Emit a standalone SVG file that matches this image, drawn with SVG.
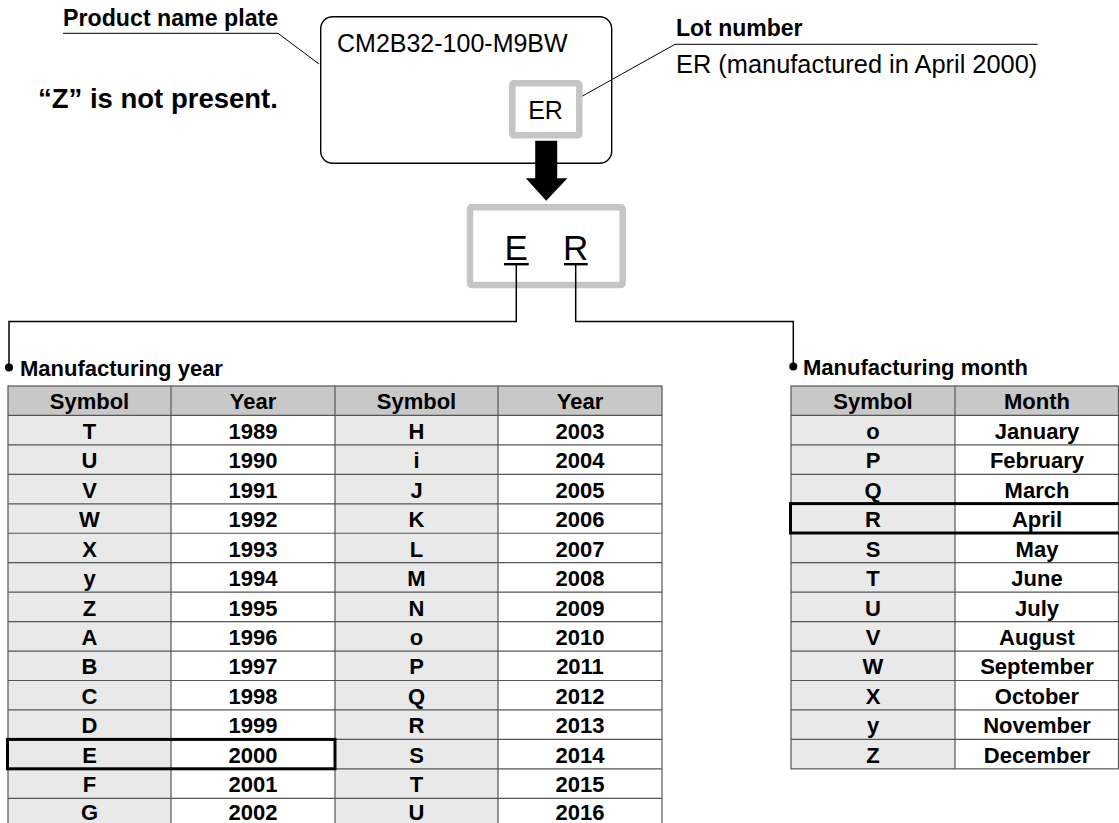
<svg xmlns="http://www.w3.org/2000/svg" width="1119" height="823" viewBox="0 0 1119 823">
  <style>
    .bold { font-family: "Liberation Sans", Arial, sans-serif; font-weight: bold; fill: #000; }
    .reg { font-family: "Liberation Sans", Arial, sans-serif; fill: #000; }
    .lbl { font-size: 22px; }
    .cell { font-size: 22px; text-anchor: middle; }
    .wire { fill: none; stroke: #000; stroke-width: 1.5; }
    .thin { fill: none; stroke: #000; stroke-width: 1; }
    .grid { stroke: #555; stroke-width: 1.2; fill: none; }
    .hdr { fill: #c8c8c8; }
    .sym { fill: #e8e9e8; }
    .val { fill: #fff; }
    .gray { fill: #fff; stroke: #c4c6c5; stroke-width: 6.5; }
    .hilite { fill: none; stroke: #000; stroke-width: 3; }
  </style>

  <rect x="0" y="0" width="1119" height="823" fill="#fff"/>

  <!-- Callout labels -->
  <g id="label-nameplate">
    <text class="bold" font-size="23.2" x="63" y="26">Product name plate</text>
  </g>
  <g id="label-note">
    <text class="bold" font-size="27.5" x="38" y="108">“Z” is not present.</text>
  </g>
  <g id="label-lot">
    <text class="bold" font-size="23" x="676" y="36">Lot number</text>
    <text class="reg" font-size="25.4" x="676" y="73">ER (manufactured in April 2000)</text>
  </g>

  <!-- Name plate -->
  <g id="nameplate">
    <rect x="320.7" y="16.7" width="291" height="146.6" rx="12" fill="#fff" stroke="#000" stroke-width="1.4"/>
    <text class="reg" font-size="25" x="337" y="52">CM2B32-100-M9BW</text>
  </g>
  <g id="lot-box">
    <rect class="gray" x="512.3" y="83.3" width="67" height="52" rx="1.5"/>
    <text class="reg" font-size="25" x="545.5" y="118.5" text-anchor="middle">ER</text>
  </g>

  <!-- Enlarged lot code -->
  <g id="lot-code">
    <rect class="gray" x="470" y="207.3" width="152.7" height="77.7" rx="1.5"/>
    <text class="reg" font-size="35" x="516.3" y="260" text-anchor="middle">E</text>
    <text class="reg" font-size="35" x="575.7" y="260" text-anchor="middle">R</text>
    <rect x="504" y="263" width="24.7" height="2.4" fill="#000"/>
    <rect x="564" y="263" width="23.7" height="2.4" fill="#000"/>
  </g>

  <!-- Connectors -->
  <g id="connectors">
    <polyline class="thin" points="63,33.3 278,33.3 319,64"/>
    <polyline class="thin" points="582.5,96 675,44.3 1037.7,44.3"/>
    <polygon points="535.2,140.7 557.2,140.7 557.2,178.3 567.4,178.3 546.2,200.7 525.8,178.3 535.2,178.3" fill="#000"/>
    <polyline class="wire" points="516.3,265 516.3,321.5 9,321.5 9,367.5"/>
    <circle cx="9" cy="367.5" r="4" fill="#000"/>
    <polyline class="wire" points="575.7,265 575.7,321.5 793.3,321.5 793.3,366.5"/>
    <circle cx="793.3" cy="366.5" r="4" fill="#000"/>
  </g>

  <!-- Manufacturing year table -->
  <g id="year-table">
    <text class="bold lbl" x="20" y="376">Manufacturing year</text>
    <rect class="hdr" x="8" y="386" width="654" height="29.45"/>
    <rect class="sym" x="8" y="415.45" width="163" height="412.3"/>
    <rect class="val" x="171" y="415.45" width="164" height="412.3"/>
    <rect class="sym" x="335" y="415.45" width="163" height="412.3"/>
    <rect class="val" x="498" y="415.45" width="164" height="412.3"/>
    <g class="grid">
      <rect x="8" y="386" width="654" height="441.75"/>
      <line x1="171" y1="386" x2="171" y2="827.75"/>
      <line x1="335" y1="386" x2="335" y2="827.75"/>
      <line x1="498" y1="386" x2="498" y2="827.75"/>
      <line x1="8" y1="415.45" x2="662" y2="415.45"/>
      <line x1="8" y1="444.9" x2="662" y2="444.9"/>
      <line x1="8" y1="474.35" x2="662" y2="474.35"/>
      <line x1="8" y1="503.8" x2="662" y2="503.8"/>
      <line x1="8" y1="533.25" x2="662" y2="533.25"/>
      <line x1="8" y1="562.7" x2="662" y2="562.7"/>
      <line x1="8" y1="592.15" x2="662" y2="592.15"/>
      <line x1="8" y1="621.6" x2="662" y2="621.6"/>
      <line x1="8" y1="651.05" x2="662" y2="651.05"/>
      <line x1="8" y1="680.5" x2="662" y2="680.5"/>
      <line x1="8" y1="709.95" x2="662" y2="709.95"/>
      <line x1="8" y1="739.4" x2="662" y2="739.4"/>
      <line x1="8" y1="768.85" x2="662" y2="768.85"/>
      <line x1="8" y1="798.3" x2="662" y2="798.3"/>
    </g>
    <g class="bold cell">
      <text x="89.5" y="408.5">Symbol</text><text x="253" y="408.5">Year</text><text x="416.5" y="408.5">Symbol</text><text x="580" y="408.5">Year</text>
      <text x="89.5" y="438.8">T</text><text x="253" y="438.8">1989</text><text x="416.5" y="438.8">H</text><text x="580" y="438.8">2003</text>
      <text x="89.5" y="468.2">U</text><text x="253" y="468.2">1990</text><text x="416.5" y="468.2">i</text><text x="580" y="468.2">2004</text>
      <text x="89.5" y="497.7">V</text><text x="253" y="497.7">1991</text><text x="416.5" y="497.7">J</text><text x="580" y="497.7">2005</text>
      <text x="89.5" y="527.1">W</text><text x="253" y="527.1">1992</text><text x="416.5" y="527.1">K</text><text x="580" y="527.1">2006</text>
      <text x="89.5" y="556.6">X</text><text x="253" y="556.6">1993</text><text x="416.5" y="556.6">L</text><text x="580" y="556.6">2007</text>
      <text x="89.5" y="586">y</text><text x="253" y="586">1994</text><text x="416.5" y="586">M</text><text x="580" y="586">2008</text>
      <text x="89.5" y="615.5">Z</text><text x="253" y="615.5">1995</text><text x="416.5" y="615.5">N</text><text x="580" y="615.5">2009</text>
      <text x="89.5" y="644.9">A</text><text x="253" y="644.9">1996</text><text x="416.5" y="644.9">o</text><text x="580" y="644.9">2010</text>
      <text x="89.5" y="674.4">B</text><text x="253" y="674.4">1997</text><text x="416.5" y="674.4">P</text><text x="580" y="674.4">2011</text>
      <text x="89.5" y="703.8">C</text><text x="253" y="703.8">1998</text><text x="416.5" y="703.8">Q</text><text x="580" y="703.8">2012</text>
      <text x="89.5" y="733.3">D</text><text x="253" y="733.3">1999</text><text x="416.5" y="733.3">R</text><text x="580" y="733.3">2013</text>
      <text x="89.5" y="762.7">E</text><text x="253" y="762.7">2000</text><text x="416.5" y="762.7">S</text><text x="580" y="762.7">2014</text>
      <text x="89.5" y="792.2">F</text><text x="253" y="792.2">2001</text><text x="416.5" y="792.2">T</text><text x="580" y="792.2">2015</text>
      <text x="89.5" y="820">G</text><text x="253" y="820">2002</text><text x="416.5" y="820">U</text><text x="580" y="820">2016</text>
    </g>
    <rect class="hilite" x="7.5" y="739.4" width="327.5" height="29.4"/>
  </g>

  <!-- Manufacturing month table -->
  <g id="month-table">
    <text class="bold lbl" x="803" y="375">Manufacturing month</text>
    <rect class="hdr" x="791" y="386" width="328" height="29.45"/>
    <rect class="sym" x="791" y="415.45" width="164" height="353.4"/>
    <rect class="val" x="955" y="415.45" width="164" height="353.4"/>
    <g class="grid">
      <rect x="791" y="386" width="327.5" height="382.85"/>
      <line x1="955" y1="386" x2="955" y2="768.85"/>
      <line x1="791" y1="415.45" x2="1119" y2="415.45"/>
      <line x1="791" y1="444.9" x2="1119" y2="444.9"/>
      <line x1="791" y1="474.35" x2="1119" y2="474.35"/>
      <line x1="791" y1="503.8" x2="1119" y2="503.8"/>
      <line x1="791" y1="533.25" x2="1119" y2="533.25"/>
      <line x1="791" y1="562.7" x2="1119" y2="562.7"/>
      <line x1="791" y1="592.15" x2="1119" y2="592.15"/>
      <line x1="791" y1="621.6" x2="1119" y2="621.6"/>
      <line x1="791" y1="651.05" x2="1119" y2="651.05"/>
      <line x1="791" y1="680.5" x2="1119" y2="680.5"/>
      <line x1="791" y1="709.95" x2="1119" y2="709.95"/>
      <line x1="791" y1="739.4" x2="1119" y2="739.4"/>
    </g>
    <g class="bold cell">
      <text x="873" y="408.5">Symbol</text><text x="1037" y="408.5">Month</text>
      <text x="873" y="438.8">o</text><text x="1037" y="438.8">January</text>
      <text x="873" y="468.2">P</text><text x="1037" y="468.2">February</text>
      <text x="873" y="497.7">Q</text><text x="1037" y="497.7">March</text>
      <text x="873" y="527.1">R</text><text x="1037" y="527.1">April</text>
      <text x="873" y="556.6">S</text><text x="1037" y="556.6">May</text>
      <text x="873" y="586">T</text><text x="1037" y="586">June</text>
      <text x="873" y="615.5">U</text><text x="1037" y="615.5">July</text>
      <text x="873" y="644.9">V</text><text x="1037" y="644.9">August</text>
      <text x="873" y="674.4">W</text><text x="1037" y="674.4">September</text>
      <text x="873" y="703.8">X</text><text x="1037" y="703.8">October</text>
      <text x="873" y="733.3">y</text><text x="1037" y="733.3">November</text>
      <text x="873" y="762.7">Z</text><text x="1037" y="762.7">December</text>
    </g>
    <rect class="hilite" x="790.5" y="503.6" width="330" height="29.4"/>
  </g>
</svg>
